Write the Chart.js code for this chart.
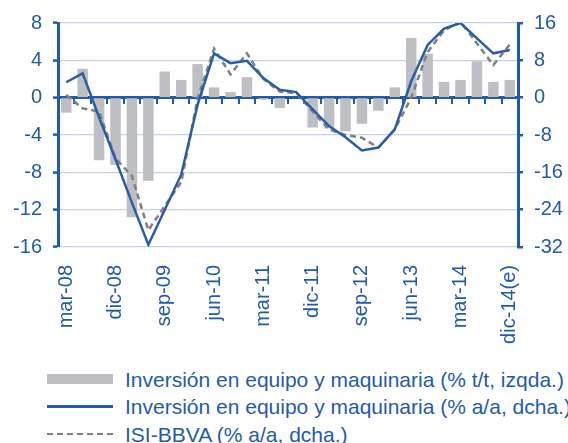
<!DOCTYPE html>
<html>
<head>
<meta charset="utf-8">
<script src="https://cdn.jsdelivr.net/npm/chart.js@4"></script>
<style>
    body { margin: 0; background: #fff; }
    #wrap { position: relative; width: 568px; height: 443px; overflow: hidden; }
    #chart { position: absolute; left: 0; top: 0; }
    .leg { position: absolute; left: 47px; height: 26px; white-space: nowrap;
           font-family: "Liberation Sans", Arial, sans-serif; font-size: 21px; color: #1F5CA8; }
    .leg span { position: absolute; left: 78px; top: 0; line-height: 26px; }
    .sw { position: absolute; left: 0; width: 66px; }
</style>
</head>
<body>
<div id="wrap">
    <canvas id="chart" width="568" height="360"></canvas>
    <div class="leg" style="top:367px"><div class="sw" style="top:7px;height:10px;background:#BEBFC3"></div><span>Inversión en equipo y maquinaria (% t/t, izqda.)</span></div>
    <div class="leg" style="top:394px"><div class="sw" style="top:11px;height:0;border-top:3px solid #2A5DA8"></div><span>Inversión en equipo y maquinaria (% a/a, dcha.)</span></div>
    <div class="leg" style="top:422px"><div class="sw" style="top:11px;height:0;border-top:2.5px dashed #808080"></div><span>ISI-BBVA (% a/a, dcha.)</span></div>
</div>
<script>
// Inversión en equipo y maquinaria vs ISI-BBVA

const quarters = [
    'mar-08', 'jun-08', 'sep-08', 'dic-08',
    'mar-09', 'jun-09', 'sep-09', 'dic-09',
    'mar-10', 'jun-10', 'sep-10', 'dic-10',
    'mar-11', 'jun-11', 'sep-11', 'dic-11',
    'mar-12', 'jun-12', 'sep-12', 'dic-12',
    'mar-13', 'jun-13', 'sep-13', 'dic-13',
    'mar-14', 'jun-14', 'sep-14', 'dic-14(e)'
];

// % t/t, eje izquierdo
const investQoQ = [-1.6, 3.1, -6.7, -7.2, -12.8, -8.9, 2.8, 1.9, 3.6, 1.1, 0.6, 2.2, -0.2, -1.1,
    0.0, -3.2, -3.3, -3.6, -2.8, -1.4, 1.1, 6.4, 4.7, 1.7, 1.9, 3.9, 1.7, 1.9];

// % a/a, eje derecho
const investYoY = [3.3, 5.2, -4.2, -13.2, -22.5, -31.5, -24.0, -16.5, -1.5, 9.5, 7.4, 7.9, 4.2, 1.7,
    1.2, -2.5, -6.1, -8.5, -11.3, -10.7, -6.8, 3.5, 11.3, 14.8, 16.0, 12.7, 9.5, 10.2];

const isiBbva = [0.6, -2.3, -3.0, -13.0, -16.8, -28.4, -23.2, -18.1, -0.2, 10.5, 5.0, 9.5, 4.0, 1.3,
    1.0, -3.0, -6.8, -8.0, -8.6, -10.7, -6.8, 0.0, 9.8, 14.4, 16.3, 11.6, 7.0, 11.4];

const leftTicks = [-16, -12, -8, -4, 0, 4, 8];
const rightTicks = [-32, -24, -16, -8, 0, 8, 16];

const BLUE = '#1F5CA8';
const GRID = '#C6D2E8';
const FONT = { family: '"Liberation Sans", Arial, sans-serif', size: 20 };

document.addEventListener('DOMContentLoaded', function () {
    drawChart();
});

function drawChart() {
    const ctx = document.getElementById('chart').getContext('2d');
    new Chart(ctx, {
        type: 'bar',
        data: {
            labels: quarters,
            datasets: [
                {
                    label: 'Inversión en equipo y maquinaria (% a/a, dcha.)',
                    type: 'line',
                    data: investYoY,
                    yAxisID: 'y1',
                    borderColor: '#2A5DA8',
                    borderWidth: 2.5,
                    pointRadius: 0,
                    tension: 0,
                    order: 0
                },
                {
                    label: 'ISI-BBVA (% a/a, dcha.)',
                    type: 'line',
                    data: isiBbva,
                    yAxisID: 'y1',
                    borderColor: '#808080',
                    borderWidth: 2.5,
                    borderDash: [6, 4],
                    pointRadius: 0,
                    tension: 0,
                    order: 1
                },
                {
                    label: 'Inversión en equipo y maquinaria (% t/t, izqda.)',
                    data: investQoQ,
                    yAxisID: 'y',
                    backgroundColor: '#BEBFC3',
                    barPercentage: 0.64,
                    categoryPercentage: 1,
                    order: 2
                }
            ]
        },
        options: {
            responsive: false,
            animation: false,
            layout: { padding: { top: 21, left: 0, right: 0, bottom: 0 } },
            plugins: {
                legend: { display: false },
                tooltip: { enabled: false }
            },
            scales: {
                x: {
                    position: 'bottom',
                    grid: { display: false, drawTicks: false },
                    border: { display: false },
                    ticks: {
                        autoSkip: false,
                        maxRotation: 90,
                        minRotation: 90,
                        padding: 18,
                        color: BLUE,
                        font: FONT,
                        callback: function (val, idx) {
                            return idx % 3 === 0 ? quarters[idx] : '';
                        }
                    },
                    afterFit: function (scale) { scale.height = 113; }
                },
                xz: {
                    type: 'category',
                    position: { y: 0 },
                    offset: true,
                    z: 1,
                    grid: {
                        offset: true,
                        drawOnChartArea: false,
                        drawTicks: true,
                        tickLength: 5,
                        color: BLUE,
                        lineWidth: 2
                    },
                    border: { display: true, color: BLUE, width: 3 },
                    ticks: { display: false }
                },
                y: {
                    position: 'left',
                    min: -16,
                    max: 8,
                    afterBuildTicks: function (scale) {
                        scale.ticks = leftTicks.map(v => ({ value: v }));
                    },
                    grid: {
                        color: GRID,
                        lineWidth: 1.2,
                        tickColor: BLUE,
                        tickLength: 5,
                        tickWidth: 2.5
                    },
                    border: { display: true, color: BLUE, width: 3 },
                    ticks: { color: BLUE, font: FONT, padding: 11 },
                    afterFit: function (scale) { scale.width = 58; }
                },
                y1: {
                    position: 'right',
                    min: -32,
                    max: 16,
                    afterBuildTicks: function (scale) {
                        scale.ticks = rightTicks.map(v => ({ value: v }));
                    },
                    grid: {
                        drawOnChartArea: false,
                        color: BLUE,
                        tickLength: 5,
                        lineWidth: 2.5
                    },
                    border: { display: true, color: BLUE, width: 3 },
                    ticks: { color: BLUE, font: FONT, padding: 11 },
                    afterFit: function (scale) { scale.width = 50; }
                }
            }
        }
    });
}
</script>
</body>
</html>
